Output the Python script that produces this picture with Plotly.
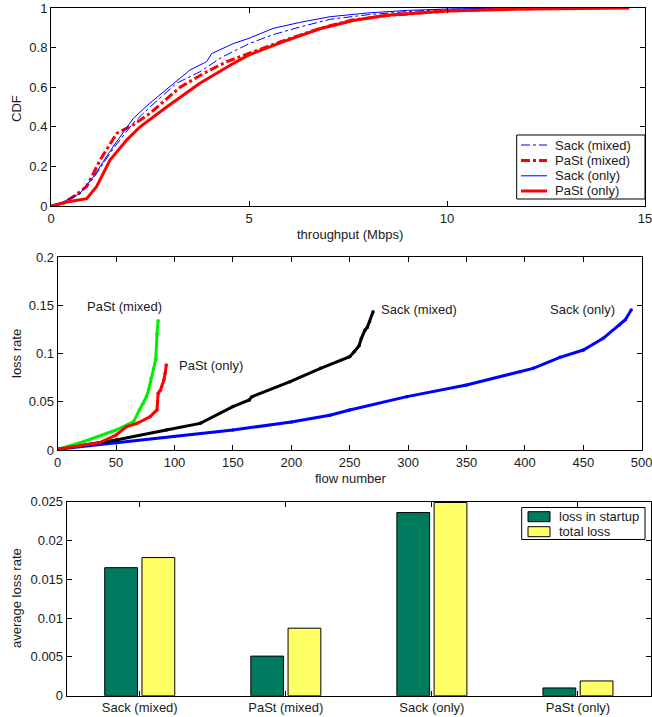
import plotly.graph_objects as go

# ---------------- data: top (CDF of throughput) ----------------
sack_mixed_x = [0, 0.3, 0.73, 1.07, 1.57, 2.08, 2.5, 3.17, 3.76, 4.3, 5.0, 5.6, 6.3, 7.05, 8.0, 9.0, 10.0, 11.0, 12.0]
sack_mixed_y = [0, 0.018, 0.06, 0.14, 0.29, 0.42, 0.50, 0.62, 0.678, 0.75, 0.82, 0.865, 0.905, 0.943, 0.966, 0.982, 0.993, 0.997, 1.0]
past_mixed_x = [0, 0.3, 0.56, 0.9, 1.24, 1.66, 2.08, 2.5, 3.26, 3.93, 4.44, 5.0, 5.8, 6.8, 7.6, 8.5, 10.0, 11.5, 13.5]
past_mixed_y = [0, 0.012, 0.047, 0.098, 0.232, 0.367, 0.41, 0.468, 0.60, 0.678, 0.729, 0.771, 0.83, 0.897, 0.939, 0.962, 0.985, 0.995, 1.0]
sack_only_x = [0, 0.3, 0.73, 1.07, 1.57, 2.08, 2.5, 3.09, 3.51, 3.93, 4.06, 4.6, 5.0, 5.61, 6.3, 7.05, 8.0, 9.0, 10.0, 11.0, 11.8]
sack_only_y = [0, 0.02, 0.064, 0.148, 0.30, 0.443, 0.52, 0.62, 0.687, 0.729, 0.77, 0.82, 0.847, 0.897, 0.928, 0.956, 0.975, 0.988, 0.995, 0.998, 1.0]
past_only_x = [0, 0.4, 0.9, 1.15, 1.49, 1.91, 2.25, 2.92, 3.76, 4.6, 5.0, 5.87, 6.79, 7.63, 8.48, 9.99, 11.5, 13.0, 14.6]
past_only_y = [0, 0.02, 0.037, 0.098, 0.232, 0.333, 0.40, 0.50, 0.62, 0.72, 0.763, 0.83, 0.895, 0.937, 0.963, 0.985, 0.993, 0.998, 1.0]
cdf_names = ["Sack (mixed)", "PaSt (mixed)", "Sack (only)", "PaSt (only)"]

# ---------------- data: middle (sorted loss rate per flow) ----------------
lr_sack_only_x = [1, 50, 100, 150, 200, 233, 250, 299, 350, 396, 407, 430, 450, 467, 481, 486, 491]
lr_sack_only_y = [0.001, 0.0076, 0.014, 0.0207, 0.029, 0.036, 0.0415, 0.0553, 0.0674, 0.0812, 0.0846, 0.096, 0.1036, 0.1157, 0.1295, 0.135, 0.145]
lr_sack_mixed_x = [1, 50, 93, 122, 150, 164, 166, 199, 225, 250, 254, 258, 260, 263, 265, 267, 270]
lr_sack_mixed_y = [0.001, 0.0104, 0.0207, 0.0276, 0.045, 0.0518, 0.055, 0.0708, 0.0846, 0.0967, 0.102, 0.108, 0.1157, 0.124, 0.127, 0.133, 0.1433]
lr_past_mixed_x = [1, 22, 50, 65, 70, 73, 76, 78, 80, 82, 84, 85, 86]
lr_past_mixed_y = [0.001, 0.0086, 0.0207, 0.0293, 0.0415, 0.048, 0.0553, 0.063, 0.0743, 0.084, 0.094, 0.120, 0.134]
lr_past_only_x = [1, 36, 50, 59, 68, 79, 85, 86, 88, 89, 91, 92, 93]
lr_past_only_y = [0.001, 0.0076, 0.0155, 0.0242, 0.0276, 0.0345, 0.0415, 0.0587, 0.062, 0.0656, 0.073, 0.0795, 0.088]

# ---------------- data: bottom (average loss rate) ----------------
categories = ["Sack (mixed)", "PaSt (mixed)", "Sack (only)", "PaSt (only)"]
bar_names = ["loss in startup", "total loss"]
loss_startup = [0.0165, 0.0051, 0.0236, 0.0010]
loss_total = [0.0178, 0.0087, 0.0249, 0.0019]

W, H = 652, 717
FONT = "Liberation Sans, Arial, sans-serif"
TXT = "#1a1a1a"


def px(v):
    return v / W


def py(v):
    return 1 - v / H


fig = go.Figure()

cdf_styles = [
    dict(color="#0000ff", width=1, dash="dashdot"),
    dict(color="#ff0000", width=3, dash="dashdot"),
    dict(color="#0000ff", width=1),
    dict(color="#ff0000", width=3),
]
cdf_data = [(sack_mixed_x, sack_mixed_y), (past_mixed_x, past_mixed_y),
            (sack_only_x, sack_only_y), (past_only_x, past_only_y)]
for (xs, ys), name, st in zip(cdf_data, cdf_names, cdf_styles):
    fig.add_trace(go.Scatter(x=xs, y=ys, mode="lines", name=name, line=st, showlegend=False))

# middle
for xs, ys, col in [(lr_sack_only_x, lr_sack_only_y, "#0000ff"),
                    (lr_sack_mixed_x, lr_sack_mixed_y, "#000000"),
                    (lr_past_mixed_x, lr_past_mixed_y, "#00ee00"),
                    (lr_past_only_x, lr_past_only_y, "#ff0000")]:
    fig.add_trace(go.Scatter(x=xs, y=ys, mode="lines+markers", xaxis="x2", yaxis="y2",
                             line=dict(color=col, width=3), marker=dict(color=col, size=3.5),
                             showlegend=False))

# bottom
bar_colors = ["#007a5e", "#ffff66"]
for vals, name, col in zip([loss_startup, loss_total], bar_names, bar_colors):
    fig.add_trace(go.Bar(x=categories, y=vals, name=name, xaxis="x3", yaxis="y3", showlegend=False,
                         marker=dict(color=col, line=dict(color="#000000", width=1))))

axis_common = dict(showline=True, linecolor="#000000", linewidth=1, mirror="ticks", ticks="inside",
                   ticklen=5, tickcolor="#000000", showgrid=False, zeroline=False, automargin=False,
                   ticklabeloverflow="allow",
                   tickfont=dict(family=FONT, size=13, color=TXT))

fig.update_layout(
    width=W, height=H,
    margin=dict(l=0, r=0, t=0, b=0, pad=0),
    paper_bgcolor="white", plot_bgcolor="white",
    font=dict(family=FONT, size=13, color=TXT),
    showlegend=False,
    barmode="group", bargap=0.49, bargroupgap=0.12,
    xaxis=dict(domain=[px(51), px(645)], range=[0, 15], tickvals=[0, 5, 10, 15], anchor="y", **axis_common),
    yaxis=dict(domain=[py(206), py(8)], range=[0, 1], tickvals=[0, 0.2, 0.4, 0.6, 0.8, 1],
               ticktext=["0", "0.2", "0.4", "0.6", "0.8", "1"], anchor="x", **axis_common),
    xaxis2=dict(domain=[px(57.7), px(641.7)], range=[0, 500], tickvals=list(range(0, 501, 50)),
                anchor="y2", **axis_common),
    yaxis2=dict(domain=[py(450), py(257)], range=[0, 0.2], tickvals=[0, 0.05, 0.1, 0.15, 0.2],
                ticktext=["0", "0.05", "0.1", "0.15", "0.2"], anchor="x2", **axis_common),
    xaxis3=dict(domain=[px(66.7), px(651)], range=[-0.5, 3.5], anchor="y3", **axis_common),
    yaxis3=dict(domain=[py(695.7), py(501.7)], range=[0, 0.025],
                tickvals=[0, 0.005, 0.01, 0.015, 0.02, 0.025],
                ticktext=["0", "0.005", "0.01", "0.015", "0.02", "0.025"], anchor="x3", **axis_common),
)

ann_font = dict(family=FONT, size=13, color=TXT)
annotations = [
    dict(text="CDF", x=px(16), y=py(109), textangle=-90),
    dict(text="throughput (Mbps)", x=px(350), y=py(234)),
    dict(text="loss rate", x=px(16), y=py(354), textangle=-90),
    dict(text="flow number", x=px(350), y=py(478)),
    dict(text="average loss rate", x=px(16), y=py(598), textangle=-90),
]
for a in annotations:
    fig.add_annotation(xref="paper", yref="paper", showarrow=False, font=ann_font,
                       xanchor="center", yanchor="middle", **a)

labels_mid = [("PaSt (mixed)", 23.4, 0.149), ("PaSt (only)", 102, 0.088),
              ("Sack (mixed)", 275, 0.146), ("Sack (only)", 420, 0.146)]
for t, x, y in labels_mid:
    fig.add_annotation(xref="x2", yref="y2", x=x, y=y, text=t, showarrow=False, font=ann_font,
                       xanchor="left", yanchor="middle")

# ---- legend for top chart (drawn box) ----
fig.add_shape(type="rect", xref="paper", yref="paper", x0=px(516.7), x1=px(645), y0=py(199), y1=py(135),
              line=dict(color="#000000", width=1), fillcolor="white", layer="above")
rows_top = [145, 160.5, 175.8, 191]
for name, st, ry in zip(cdf_names, cdf_styles, rows_top):
    fig.add_shape(type="line", xref="paper", yref="paper", x0=px(521), x1=px(547), y0=py(ry), y1=py(ry),
                  line=st, layer="above")
    fig.add_annotation(xref="paper", yref="paper", x=px(553), y=py(ry), text=name, showarrow=False,
                       font=ann_font, xanchor="left", yanchor="middle")

# ---- legend for bar chart (drawn box) ----
fig.add_shape(type="rect", xref="paper", yref="paper", x0=px(521.7), x1=px(645), y0=py(539.5), y1=py(507.5),
              line=dict(color="#000000", width=1), fillcolor="white", layer="above")
rows_bot = [516.7, 531.7]
for name, col, ry in zip(bar_names, bar_colors, rows_bot):
    fig.add_shape(type="rect", xref="paper", yref="paper", x0=px(528), x1=px(550), y0=py(ry + 5), y1=py(ry - 5),
                  line=dict(color="#000000", width=1), fillcolor=col, layer="above")
    fig.add_annotation(xref="paper", yref="paper", x=px(557), y=py(ry), text=name, showarrow=False,
                       font=ann_font, xanchor="left", yanchor="middle")

# remove the default page margin so the figure sits at the window's top-left corner
fig.write_html("out.html", config={"displayModeBar": False},
               post_script="document.body.style.margin='0px';document.body.style.overflow='hidden';")
